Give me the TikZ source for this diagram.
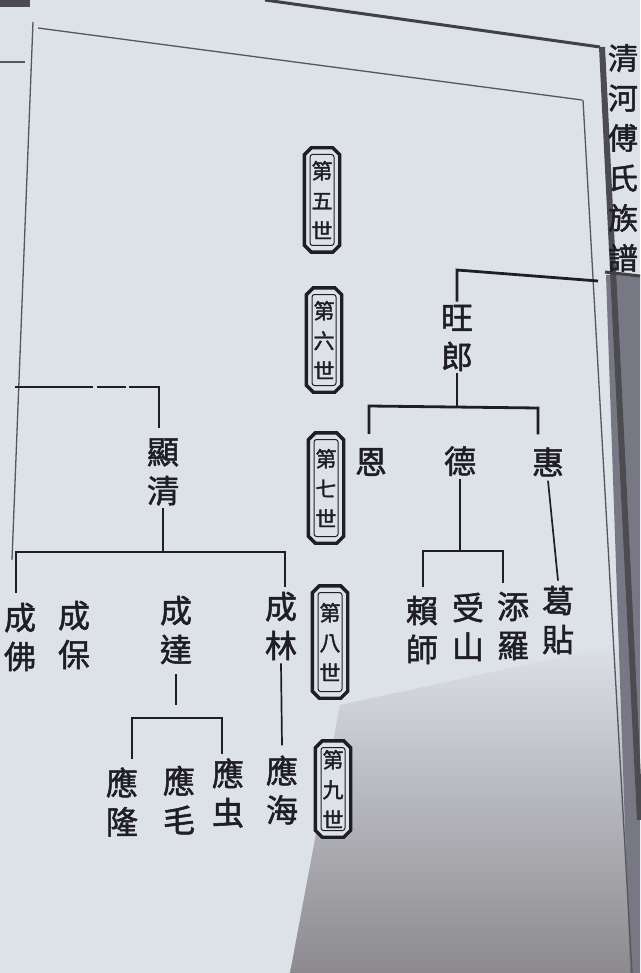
\documentclass[tikz,border=0pt]{standalone}
\usepackage{fontspec}
\newfontfamily\cjk[FakeBold=1.6]{Noto Sans CJK TC}
\newfontfamily\cjklight{Noto Sans CJK TC}
\usetikzlibrary{calc}
\definecolor{paper}{RGB}{221,225,232}
\definecolor{ink}{RGB}{30,30,36}
\definecolor{shadowc}{RGB}{140,138,142}
\definecolor{spine}{RGB}{120,120,132}
\newcommand\genlabel[4]{%
  \node[gen, minimum height=#3pt] (#1) at #2 {};
  \draw[ink, line width=3.4pt, line join=miter, fill=paper]
    ($(#1.north west)+(7,0)$) -- ($(#1.north east)+(-7,0)$) -- ($(#1.north east)+(0,7)$)
    -- ($(#1.south east)+(0,-7)$) -- ($(#1.south east)+(-7,0)$) -- ($(#1.south west)+(7,0)$)
    -- ($(#1.south west)+(0,-7)$) -- ($(#1.north west)+(0,7)$) -- cycle;
  \node[genin, minimum height=#3pt-13pt] (#1t) at (#1) {#4};}
\begin{document}
\begin{tikzpicture}[x=1pt,y=-1pt,
 nm/.style={font=\cjk\fontsize{32}{39}\selectfont, align=center, inner sep=0pt, text=ink},
 ln/.style={draw=ink, line width=2.8pt},
 thinln/.style={draw=ink, line width=1.7pt},
 gen/.style={rectangle, minimum width=35pt, inner sep=0pt},
 genin/.style={draw=ink, line width=1pt, rounded corners=2.5pt, minimum width=24pt, font=\cjk\fontsize{21}{30}\selectfont, align=center, inner sep=0pt, text=ink},
 frame/.style={draw=ink!75, line width=1.3pt}
]
\useasboundingbox (0,0) rectangle (640,973);
% paper and shadow
\fill[paper] (0,0) rectangle (640,973);
\shade[top color=paper, bottom color=shadowc] (340,705) -- (640,640) -- (640,973) -- (290,973) -- cycle;
% spine
\fill[spine] (606,275) -- (640,275) -- (640,973) -- (630,973) -- cycle;
\draw[ink!85, line width=3pt] (265,0) -- (600,47);
\draw[ink!80, line width=6pt] (602,47) -- (640,820);
\draw[frame] (38,28) -- (582,100);
\draw[frame] (583,100) -- (632,973);
\draw[frame] (33,22) -- (12,560);
\draw[frame] (0,62) -- (25,62);
\fill[ink!80] (0,0) rectangle (30,7);
\draw[ink!85, line width=3pt] (605,272) -- (640,276);
\node[font=\cjk\fontsize{30}{40}\selectfont, align=center, text=ink, inner sep=0pt] (title) at (623,158) {清\\河\\傅\\氏\\族\\譜};

% generation labels
\genlabel{g5}{(322,200)}{104}{第\\五\\世}
\genlabel{g6}{(324,340)}{104}{第\\六\\世}
\genlabel{g7}{(326,488)}{110}{第\\七\\世}
\genlabel{g8}{(330,642)}{112}{第\\八\\世}
\genlabel{g9}{(333,789)}{96}{第\\九\\世}

% right tree
\node[nm] (wl) at (457,338) {旺\\郎};
\node[nm] (en) at (371,462) {恩};
\node[nm] (de) at (460,461) {德};
\node[nm] (hui) at (548,462) {惠};
\node[nm] (ls) at (422,630) {賴\\師};
\node[nm] (ss) at (468,627) {受\\山};
\node[nm] (tl) at (513,626) {添\\羅};
\node[nm] (gt) at (558,620) {葛\\貼};

\coordinate (wtopl) at (457,270);
\coordinate (wtopr) at (598,281);
\draw[ln] ([yshift=3pt]wl.north) -- (wl.north |- wtopl) -- (wtopr);
\coordinate (b1l) at (369,406);
\coordinate (b1r) at (538,408);
\coordinate (enTop) at ([yshift=14pt]en.north);
\coordinate (huiTop) at ([yshift=13pt]hui.north);
\draw[ln] ([yshift=-2pt]wl.south) -- (wl.south |- b1l);
\draw[ln] (enTop -| b1l) -- (b1l) -- (b1r) -- (huiTop -| b1r);
\coordinate (b2l) at (423,551);
\coordinate (b2r) at (503,551);
\coordinate (lsTop) at ([yshift=9pt]ls.north);
\coordinate (tlTop) at ([yshift=9pt]tl.north);
\draw[ln] ([yshift=-3pt]de.south) -- (de.south |- b2l);
\draw[ln] (lsTop -| b2l) -- (b2l) -- (b2r) -- (tlTop -| b2r);
\draw[thinln] ([yshift=-4pt]hui.south) -- ([yshift=5pt]gt.north);

% left tree
\node[nm] (xq) at (163,472) {顯\\清};
\node[nm] (cf) at (20,637) {成\\佛};
\node[nm] (cb) at (74,635) {成\\保};
\node[nm] (cd) at (176,630) {成\\達};
\node[nm] (cl) at (281,626) {成\\林};
\node[nm] (yl) at (122,802) {應\\隆};
\node[nm] (ym) at (179,800) {應\\毛};
\node[nm] (yc) at (228,793) {應\\虫};
\node[nm] (yh) at (282,790) {應\\海};

\coordinate (lt) at (15,387);
\coordinate (ltr) at (159,387);
\coordinate (xqTop) at ([yshift=10pt]xq.north);
\draw[ln] (lt) -- (ltr) -- (ltr |- xqTop);
\draw[paper, line width=3.2pt] (93,387) -- (97,387) (126,387) -- (129,387);
\coordinate (b3l) at (16,552);
\coordinate (b3r) at (285,552);
\coordinate (cfTop) at ([yshift=10pt]cf.north);
\coordinate (clTop) at ([yshift=5pt]cl.north);
\draw[ln] ([yshift=-2pt]xq.south) -- (xq.south |- b3l);
\draw[ln] (cfTop -| b3l) -- (b3l) -- (b3r) -- (clTop -| b3r);
\coordinate (b4l) at (132,718);
\coordinate (b4r) at (222,718);
\coordinate (ylTop) at ([yshift=8pt]yl.north);
\coordinate (ycTop) at ([yshift=4pt]yc.north);
\draw[thinln] ([yshift=-10pt]cd.south) -- ([yshift=-41pt]cd.south);
\draw[ln] (ylTop -| b4l) -- (b4l) -- (b4r) -- (ycTop -| b4r);
\draw[thinln] ([yshift=-3pt]cl.south) -- ([yshift=10pt]yh.north);
\end{tikzpicture}
\end{document}
